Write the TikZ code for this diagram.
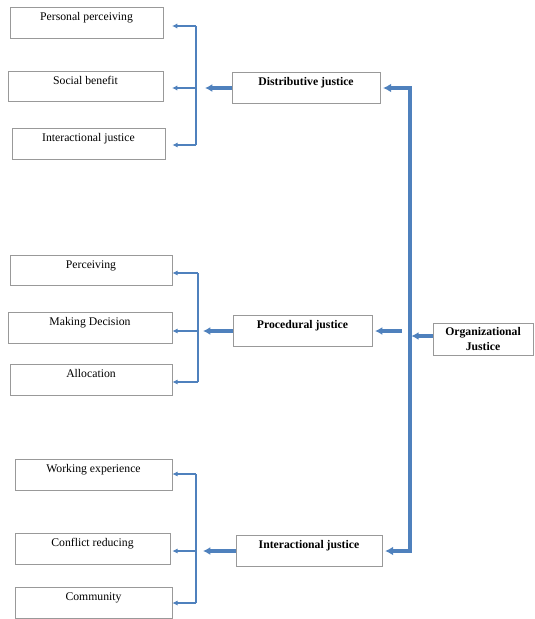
\documentclass[tikz,border=0pt]{standalone}
\usepackage{fontspec}
\setmainfont{Liberation Serif}
\usetikzlibrary{arrows.meta,positioning,calc}
\definecolor{linkblue}{RGB}{79,129,189}
\tikzset{
  leafbox/.style={draw=black!40,line width=0.6pt,inner ysep=0pt,
    text height=11pt,text depth=15pt},
  mainbox/.style={leafbox,font=\bfseries},
  rootbox/.style={draw=black!40,line width=0.6pt,align=center,font=\bfseries,
    minimum width=3cm,minimum height=0.96cm,inner ysep=3pt,anchor=center},
  spineline/.style={draw=linkblue,line width=1.2pt},
  stubarrow/.style={-{Latex[length=1.6mm,width=1.6mm]},draw=linkblue,line width=1.6pt},
  brancharrow/.style={-{Latex[length=2.2mm,width=2.4mm]},draw=linkblue,line width=2.8pt},
  trunkline/.style={{Latex[length=2.4mm,width=2.6mm]}-{Latex[length=2.4mm,width=2.6mm]},
    draw=linkblue,line width=3.4pt,line join=miter}
}
\begin{document}
\begin{tikzpicture}[x=0.03cm,y=-0.03cm]
  \useasboundingbox (0,0) rectangle (534,619);
  \node[leafbox,minimum width=4.59cm] (perspercv) at (86.5,23) {Personal perceiving};
  \node[leafbox,minimum width=4.65cm] (socbenefit) at (85.5,86.5) {Social benefit};
  \node[leafbox,minimum width=4.59cm] (interleft) at (88.5,144) {Interactional justice};
  \node[leafbox,minimum width=4.86cm] (perceiving) at (91,270.5) {Perceiving};
  \node[leafbox,minimum width=4.92cm] (makedec) at (90,328) {Making Decision};
  \node[leafbox,minimum width=4.86cm] (allocation) at (91,380) {Allocation};
  \node[leafbox,minimum width=4.71cm] (workexp) at (93.5,475) {Working experience};
  \node[leafbox,minimum width=4.65cm] (conflred) at (92.5,549) {Conflict reducing};
  \node[leafbox,minimum width=4.71cm] (community) at (93.5,603) {Community};
  \node[mainbox,minimum width=4.44cm] (distjust) at (306,88) {Distributive justice};
  \node[mainbox,minimum width=4.17cm] (procjust) at (302.5,331) {Procedural justice};
  \node[mainbox,minimum width=4.38cm] (intjust) at (309,551) {Interactional justice};
  \node[rootbox] (orgjust) at (483,339) {Organizational\\Justice};
  \coordinate (topa) at (196,26);
  \coordinate (mida) at (196,88);
  \coordinate (bota) at (196,145);
  \coordinate (topb) at (198,273);
  \coordinate (midb) at (198,331);
  \coordinate (botb) at (198,382);
  \coordinate (topc) at (196,474);
  \coordinate (midc) at (196,551);
  \coordinate (botc) at (196,603);
  \coordinate (trunktop) at (410,88);
  \coordinate (trunkbot) at (410,551);
  \draw[spineline] (topa) -- (bota);
  \draw[spineline] (topb) -- (botb);
  \draw[spineline] (topc) -- (botc);
  \draw[stubarrow,shorten >=0.26cm] (topa) -- (topa -| perspercv.east);
  \draw[stubarrow,shorten >=0.26cm] (mida) -- (mida -| socbenefit.east);
  \draw[stubarrow,shorten >=0.21cm] (bota) -- (bota -| interleft.east);
  \draw[stubarrow] (topb) -- (topb -| perceiving.east);
  \draw[stubarrow] (midb) -- (midb -| makedec.east);
  \draw[stubarrow] (botb) -- (botb -| allocation.east);
  \draw[stubarrow] (topc) -- (topc -| workexp.east);
  \draw[stubarrow,shorten >=0.06cm] (midc) -- (midc -| conflred.east);
  \draw[stubarrow] (botc) -- (botc -| community.east);
  \draw[brancharrow,shorten >=0.27cm] (distjust.west) -- (mida);
  \draw[brancharrow,shorten >=0.15cm] (procjust.west) -- (midb);
  \draw[brancharrow,shorten >=0.21cm] (intjust.west) -- (midc);
  \draw[trunkline,shorten <=0.08cm,shorten >=0.08cm] (trunktop -| distjust.east) -- (trunktop)
    -- (trunkbot) -- (trunkbot -| intjust.east);
  \draw[brancharrow,shorten <=0.24cm,shorten >=0.08cm] (trunktop |- procjust.east) -- (procjust.east);
  \draw[brancharrow,shorten >=0.04cm] (orgjust.west |- 0,336) -- (trunktop |- 0,336);
\end{tikzpicture}
\end{document}
